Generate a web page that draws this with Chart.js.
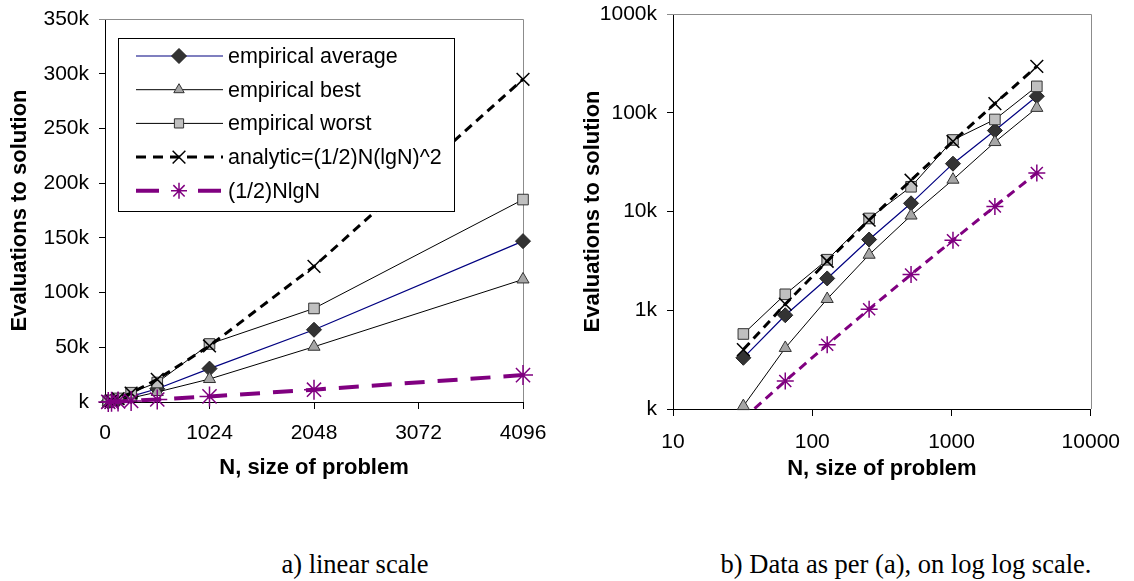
<!DOCTYPE html>
<html>
<head>
<meta charset="utf-8">
<title>Evaluations to solution</title>
<script src="https://cdn.jsdelivr.net/npm/chart.js"></script>
<style>
  body { margin: 0; background: #fff; width: 1134px; height: 581px; position: relative; overflow: hidden; }
  .panel { position: absolute; top: 0; }
  .caption { position: absolute; top: 549px; width: 520px; text-align: center;
             font-family: "Liberation Serif", "Times New Roman", serif; font-size: 26.5px; line-height: 30px; color: #000; }
</style>
</head>
<body>
<div class="panel" style="left:0"><canvas id="linChart" width="560" height="490"></canvas></div>
<div class="panel" style="left:560px"><canvas id="logChart" width="574" height="490"></canvas></div>
<div class="caption" style="left:95px">a) linear scale</div>
<div class="caption" style="left:646px">b) Data as per (a), on log log scale.</div>

<script>
// problem sizes and evaluations
const sizes = [32, 64, 128, 256, 512, 1024, 2048, 4096];
const avgEvals = [330, 890, 2100, 5200, 12100, 30500, 66000, 147000];
const bestEvals = [107, 415, 1300, 3650, 9100, 21000, 50500, 112000];
const worstEvals = [575, 1450, 3250, 8500, 17800, 53000, 85500, 185000];
const analyticEvals = [400, 1152, 3136, 8192, 20736, 51200, 123904, 294912];
const nlgnEvals = [80, 192, 448, 1024, 2304, 5120, 11264, 24576];

const seriesNames = ['empirical average', 'empirical best', 'empirical worst',
                     'analytic=(1/2)N(lgN)^2', '(1/2)NlgN'];

const linTicksX = [0, 1024, 2048, 3072, 4096];
const logTicksX = [10, 100, 1000, 10000];
const logTicksY = [100, 1000, 10000, 100000, 1000000];

const FONT = '"Liberation Sans", Arial, sans-serif';
Chart.defaults.font.family = FONT;
Chart.defaults.color = '#000';

const kLabel = v => (v < 1000 ? 'k' : (v / 1000) + 'k');
const pts = vals => sizes.map((n, i) => ({ x: n, y: vals[i] }));

function makeDatasets(isLog) {
  return [
    { label: seriesNames[0], data: pts(avgEvals), order: 5,
      borderColor: '#000080', borderWidth: 1.2,
      pointStyle: 'rectRot', pointRadius: 7.5, pointBackgroundColor: '#333333',
      pointBorderColor: '#222222', pointBorderWidth: 1 },
    { label: seriesNames[1], data: pts(bestEvals), order: 4,
      borderColor: '#000', borderWidth: 1,
      pointStyle: 'triangle', pointRadius: 7, pointBackgroundColor: '#a6a6a6',
      pointBorderColor: '#333333', pointBorderWidth: 1, legendRadius: 6 },
    { label: seriesNames[2], data: pts(worstEvals), order: 3,
      borderColor: '#000', borderWidth: 1,
      pointStyle: 'rect', pointRadius: 7.5, pointBackgroundColor: '#c0c0c0',
      pointBorderColor: '#333333', pointBorderWidth: 1, legendRadius: 6.5 },
    { label: seriesNames[3], data: pts(analyticEvals), order: 2,
      borderColor: '#000', borderWidth: 3, borderDash: [9, 6], legendDash: [10, 7],
      pointStyle: 'crossRot', pointRadius: 9, pointBackgroundColor: '#000',
      pointBorderColor: '#000', pointBorderWidth: 1.5 },
    { label: seriesNames[4], data: pts(nlgnEvals), order: 1, clip: isLog ? 0 : false,
      borderColor: '#800080', borderWidth: isLog ? 3 : 4,
      borderDash: isLog ? [9, 6] : [20, 13], legendDash: [23, 39],
      pointStyle: 'star', pointRadius: isLog ? 8.5 : 10, pointBackgroundColor: '#800080',
      pointBorderColor: '#800080', pointBorderWidth: 1.5, legendRadius: 8 }
  ].map(d => Object.assign({ fill: false, tension: 0, pointHoverRadius: d.pointRadius,
                             clip: d.clip === undefined ? false : d.clip }, d));
}

// gray top/right frame of the plot area
const frame = {
  id: 'frame',
  beforeDatasetsDraw(chart) {
    const { ctx, chartArea: a } = chart;
    ctx.save();
    ctx.strokeStyle = '#8c8c8c';
    ctx.lineWidth = 1;
    ctx.beginPath();
    ctx.moveTo(a.left - 6, Math.round(a.top) + 0.5);
    ctx.lineTo(Math.round(a.right) + 0.5, Math.round(a.top) + 0.5);
    ctx.lineTo(Math.round(a.right) + 0.5, a.bottom);
    ctx.stroke();
    ctx.restore();
  }
};

// boxed legend inside the linear chart
const legendBox = {
  id: 'legendBox',
  afterDatasetsDraw(chart, args, opts) {
    if (!opts.show) return;
    const ctx = chart.ctx;
    ctx.save();
    ctx.fillStyle = '#fff';
    ctx.fillRect(118, 38, 336, 173);
    ctx.strokeStyle = '#000';
    ctx.lineWidth = 1;
    ctx.strokeRect(118.5, 38.5, 336, 173);
    chart.data.datasets.forEach((ds, i) => {
      const y = 56 + i * 33.7;
      ctx.save();
      ctx.strokeStyle = ds.borderColor;
      ctx.lineWidth = ds.borderWidth;
      ctx.setLineDash(ds.legendDash || []);
      ctx.beginPath();
      ctx.moveTo(136, y);
      ctx.lineTo(223, y);
      ctx.stroke();
      ctx.setLineDash([]);
      ctx.fillStyle = ds.pointBackgroundColor;
      ctx.strokeStyle = ds.pointBorderColor;
      ctx.lineWidth = ds.pointBorderWidth;
      Chart.helpers.drawPoint(ctx, {
        pointStyle: ds.pointStyle, radius: ds.legendRadius || ds.pointRadius,
        rotation: 0, borderWidth: ds.pointBorderWidth
      }, 179, y);
      ctx.restore();
      ctx.fillStyle = '#000';
      ctx.font = '21.5px ' + FONT;
      ctx.textBaseline = 'middle';
      ctx.fillText(ds.label, 228, y + 1);
    });
    ctx.restore();
  }
};

function axisBase(tickLength, padding) {
  return {
    border: { display: true, color: '#000', width: 1 },
    grid: { drawOnChartArea: false, drawTicks: true, tickLength: tickLength, color: '#000' },
    ticks: { font: { size: 21 }, color: '#000', padding: padding, autoSkip: false, maxRotation: 0 }
  };
}

function titleOpt(text, pad) {
  return { display: true, text: text, color: '#000', padding: pad,
           font: { size: 22, weight: 'bold' } };
}

const linX = axisBase(7, 12);
Object.assign(linX, { type: 'linear', min: 0, max: 4096,
  title: titleOpt('N, size of problem', { top: 0, bottom: 9 }),
  afterBuildTicks: s => { s.ticks = linTicksX.map(v => ({ value: v })); },
  afterFit: s => { s.height = 88; } });
linX.ticks.callback = v => String(v);

const linY = axisBase(6, 10);
Object.assign(linY, { type: 'linear', min: 0, max: 350000,
  title: titleOpt('Evaluations to solution', { top: 7, bottom: 0 }),
  afterFit: s => { s.width = 105; s.paddingTop = 0; s.paddingBottom = 0; } });
linY.ticks.stepSize = 50000;
linY.ticks.callback = v => kLabel(v);

new Chart(document.getElementById('linChart'), {
  type: 'line',
  data: { datasets: makeDatasets(false) },
  options: {
    responsive: false, animation: false, devicePixelRatio: 1,
    layout: { padding: { left: 0, top: 19, right: 37, bottom: 0 } },
    plugins: { legend: { display: false }, tooltip: { enabled: false }, legendBox: { show: true } },
    scales: { x: linX, y: linY }
  },
  plugins: [frame, legendBox]
});

const logX = axisBase(7, 14);
Object.assign(logX, { type: 'logarithmic', min: 10, max: 10000,
  title: titleOpt('N, size of problem', { top: 0, bottom: 8 }),
  afterBuildTicks: s => { s.ticks = logTicksX.map(v => ({ value: v })); },
  afterFit: s => { s.height = 81; } });
logX.ticks.callback = v => String(v);

const logY = axisBase(6, 10);
Object.assign(logY, { type: 'logarithmic', min: 100, max: 1000000,
  title: titleOpt('Evaluations to solution', { top: 20, bottom: 0 }),
  afterBuildTicks: s => { s.ticks = logTicksY.map(v => ({ value: v })); },
  afterFit: s => { s.width = 113; s.paddingTop = 0; s.paddingBottom = 0; } });
logY.ticks.callback = v => kLabel(v);

new Chart(document.getElementById('logChart'), {
  type: 'line',
  data: { datasets: makeDatasets(true) },
  options: {
    responsive: false, animation: false, devicePixelRatio: 1,
    layout: { padding: { left: 0, top: 14, right: 41, bottom: 0 } },
    plugins: { legend: { display: false }, tooltip: { enabled: false }, legendBox: { show: false } },
    scales: { x: logX, y: logY }
  },
  plugins: [frame, legendBox]
});
</script>
</body>
</html>
